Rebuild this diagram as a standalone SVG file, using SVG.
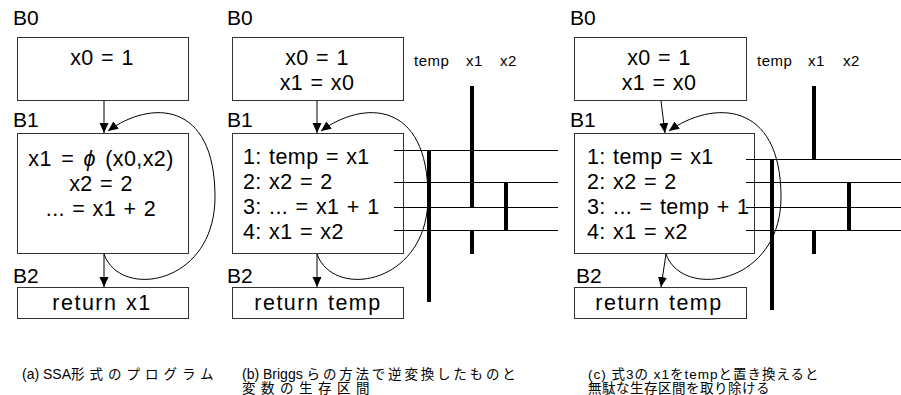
<svg xmlns="http://www.w3.org/2000/svg" width="901" height="395" viewBox="0 0 901 395">
<style>
.bg{fill:#fff}
.box{fill:#fff;stroke:#333;stroke-width:1}
.t{font-family:"Liberation Sans",Arial,sans-serif;font-size:21.5px;fill:#000;letter-spacing:0.4px;word-spacing:1px}
.ret{letter-spacing:1.5px}
.lb{font-family:"Liberation Sans",Arial,sans-serif;font-size:21px;fill:#000}
.m{text-anchor:middle}
.sm{font-family:"Liberation Sans",Arial,sans-serif;font-size:15px;fill:#000;letter-spacing:0.5px}
.cap{font-family:"Liberation Sans","Noto Sans CJK JP",sans-serif;font-size:13.5px;fill:#000}
.edge{fill:none;stroke:#000;stroke-width:1}
.live{stroke:#000;stroke-width:4;fill:none}
.grid{stroke:#000;stroke-width:1;fill:none}
</style>
<defs>
<marker id="ah" markerUnits="userSpaceOnUse" markerWidth="11" markerHeight="11" viewBox="0 0 11 11" refX="10" refY="5.5" orient="auto">
<path d="M0,1 L10,5.5 L0,10 z" fill="#000"/>
</marker>
</defs>
<rect class="bg" x="0" y="0" width="901" height="395"/>

<!-- Panel (a) -->
<g id="a-B0">
<text class="lb" x="13" y="25">B0</text>
<rect class="box" x="17.5" y="37.5" width="171" height="63"/>
<text class="t m" x="102" y="65">x0 = 1</text>
</g>
<g id="a-B1">
<text class="lb" x="13" y="127">B1</text>
<rect class="box" x="17.5" y="133.5" width="171" height="120"/>
<text class="t m" x="101" y="166" style="word-spacing:3px">x1 = <tspan font-style="italic">ϕ</tspan> (x0,x2)</text>
<text class="t m" x="101" y="191">x2 = 2</text>
<text class="t m" x="101" y="216">... = x1 + 2</text>
</g>
<g id="a-B2">
<text class="lb" x="13" y="283">B2</text>
<rect class="box" x="17.5" y="287.5" width="171" height="31"/>
<text class="t m ret" x="102" y="310">return x1</text>
</g>

<!-- Panel (b) -->
<g id="b-B0">
<text class="lb" x="227" y="25">B0</text>
<rect class="box" x="232.5" y="37.5" width="171" height="63"/>
<text class="t m" x="317" y="65">x0 = 1</text>
<text class="t m" x="317" y="90">x1 = x0</text>
</g>
<g id="b-B1">
<text class="lb" x="227" y="127">B1</text>
<rect class="box" x="232.5" y="133.5" width="171" height="120"/>
<text class="t" x="243" y="164">1: temp = x1</text>
<text class="t" x="243" y="189">2: x2 = 2</text>
<text class="t" x="243" y="214">3: ... = x1 + 1</text>
<text class="t" x="243" y="239">4: x1 = x2</text>
</g>
<g id="b-B2">
<text class="lb" x="227" y="283">B2</text>
<rect class="box" x="232.5" y="287.5" width="171" height="31"/>
<text class="t m ret" x="318" y="310">return temp</text>
</g>
<g id="b-live">
<text class="sm" x="414" y="66">temp</text>
<text class="sm" x="466" y="66">x1</text>
<text class="sm" x="500" y="66">x2</text>
<path class="grid" d="M394,150.5 H558 M394,182.5 H558 M394,207.5 H558 M394,230.5 H558"/>
<path class="live" d="M429,150 V302 M472,86 V207 M472,230 V254 M506,182 V230"/>
</g>

<!-- Panel (c) -->
<g id="c-B0">
<text class="lb" x="570" y="25">B0</text>
<rect class="box" x="574.5" y="37.5" width="172" height="63"/>
<text class="t m" x="659" y="65">x0 = 1</text>
<text class="t m" x="659" y="90">x1 = x0</text>
</g>
<g id="c-B1">
<text class="lb" x="570" y="127">B1</text>
<rect class="box" x="574.5" y="133.5" width="180" height="120"/>
<text class="t" x="587" y="164">1: temp = x1</text>
<text class="t" x="587" y="189">2: x2 = 2</text>
<text class="t" x="587" y="214">3: ... = temp + 1</text>
<text class="t" x="587" y="239">4: x1 = x2</text>
</g>
<g id="c-B2">
<text class="lb" x="576" y="283">B2</text>
<rect class="box" x="574.5" y="287.5" width="172" height="31"/>
<text class="t m ret" x="659" y="310">return temp</text>
</g>
<g id="c-live">
<text class="sm" x="757" y="66">temp</text>
<text class="sm" x="808" y="66">x1</text>
<text class="sm" x="843" y="66">x2</text>
<path class="grid" d="M746,159.5 H901 M746,182.5 H901 M746,207.5 H901 M746,230.5 H901"/>
<path class="live" d="M772,159 V310 M814,86 V159 M814,230 V254 M849,182 V230"/>
</g>

<g id="connectors">
<path class="edge" d="M104,101 L104,133" marker-end="url(#ah)"/>
<path class="edge" d="M104,254 L104,287" marker-end="url(#ah)"/>
<path class="edge" d="M104,254 C120,300 215,285 215,197 C215,100 150,100 108,131" marker-end="url(#ah)"/>
<path class="edge" d="M317,101 L317,133" marker-end="url(#ah)"/>
<path class="edge" d="M317,254 L317,287" marker-end="url(#ah)"/>
<path class="edge" d="M317,254 C333,300 428,285 428,197 C428,100 363,100 321,131" marker-end="url(#ah)"/>
<path class="edge" d="M661,101 L665,133" marker-end="url(#ah)"/>
<path class="edge" d="M666,254 L661,287" marker-end="url(#ah)"/>
<path class="edge" d="M666,254 C682,300 781,285 781,197 C781,100 712,100 669,131" marker-end="url(#ah)"/>
</g>

<g id="captions">
<text class="cap" x="22" y="379"><tspan style="font-size:14px">(a) SSA</tspan><tspan style="letter-spacing:5px">形式のプログラム</tspan></text>
<text class="cap" x="242" y="379"><tspan style="font-size:14px">(b) Briggs </tspan><tspan style="letter-spacing:2.8px">らの方法で逆変換したものと</tspan></text>
<text class="cap" x="242" y="393" style="letter-spacing:5.5px">変数の生存区間</text>
<text class="cap" x="588" y="379" style="letter-spacing:1px">(c) 式3の x1をtempと置き換えると</text>
<text class="cap" x="588" y="393" style="letter-spacing:0.5px">無駄な生存区間を取り除ける</text>
</g>
</svg>
